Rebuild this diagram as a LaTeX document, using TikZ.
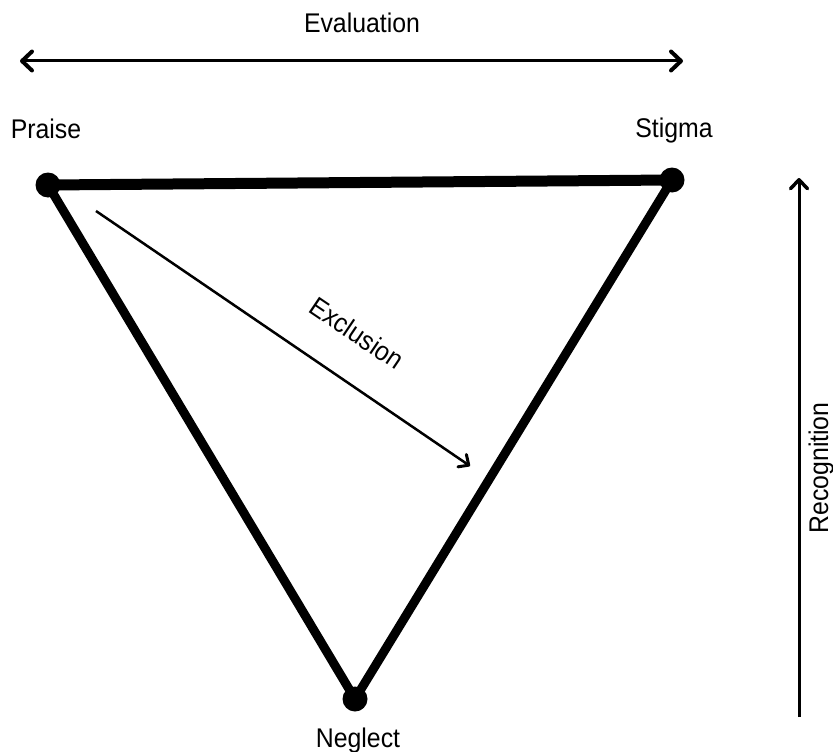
\documentclass[tikz,border=0pt]{standalone}
\usepackage{fontspec}
\setmainfont[FakeStretch=0.92]{Liberation Sans}
\usetikzlibrary{arrows.meta}
\begin{document}
\begin{tikzpicture}[x=1pt,y=-1pt,
  lbl/.style={font=\fontsize{27}{32}\selectfont, inner sep=0pt},
  vertex/.style={circle, fill=black, minimum size=25pt, inner sep=0pt},
  edge/.style={line width=9pt, line cap=round},
  topedge/.style={line width=11pt, line cap=round},
  tip/.style={Straight Barb[length=9pt,width=18pt,line width=3.5pt,round]},
  axis/.style={line width=3pt, -{Straight Barb[length=9pt,width=17pt,line width=3.5pt,round]}},
  axisboth/.style={line width=3pt, {Straight Barb[length=10pt,width=19pt,line width=4pt,round]}-{Straight Barb[length=10pt,width=19pt,line width=4pt,round]}},
  thinarrow/.style={line width=2.5pt, -{Straight Barb[length=8pt,width=15pt,line width=3pt,round]}}]
\useasboundingbox (0,0) rectangle (833,752);
% vertex positions
\coordinate (P) at (48,185);
\coordinate (S) at (672,180);
\coordinate (N) at (355,699);
% triangle
\draw[topedge] (P) -- (S);
\draw[edge] (S) -- (N);
\draw[edge] (N) -- (P);
\node[vertex] (Pdot) at (P) {};
\node[vertex] (Sdot) at (S) {};
\node[vertex] (Ndot) at (N) {};
% labels
\node[lbl, anchor=base] (praise) at (46,138) {Praise};
\node[lbl, anchor=base] (stigma) at (674,137) {Stigma};
\node[lbl, anchor=base] (neglect) at (358,747) {Neglect};
\node[lbl, anchor=base] (evaluation) at (362,33) {Evaluation};
% evaluation arrow
\coordinate (EvL) at (20,61);
\coordinate (EvR) at (683,61);
\draw[axisboth] (EvL) -- (EvR);
% recognition arrow
\coordinate (RecB) at (799,717);
\coordinate (RecT) at (799,178);
\draw[axis] (RecB) -- (RecT);
\node[lbl, anchor=base, rotate=90] (recognition) at (828,468) {Recognition};
% exclusion arrow
\coordinate (ExA) at (96,211);
\coordinate (ExB) at (470,466);
\draw[thinarrow] (ExA) -- (ExB);
\node[lbl, rotate=-34] (exclusion) at (357,333) {Exclusion};
\end{tikzpicture}
\end{document}
